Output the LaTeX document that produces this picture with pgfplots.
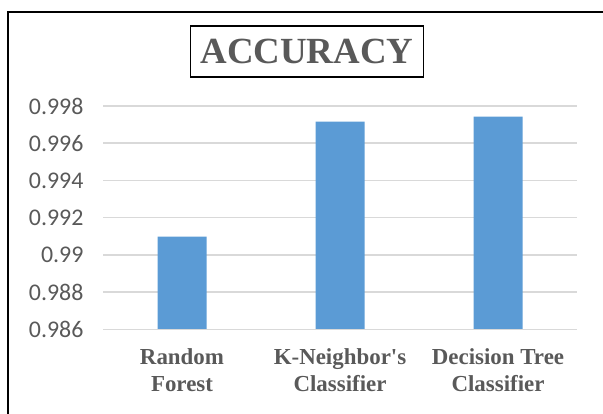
\documentclass[border=0pt]{standalone}
\usepackage{pgfplots}
\pgfplotsset{compat=1.18}
\usepackage{fontspec}
\setmainfont{Liberation Serif}
\newfontfamily\carlito{Carlito}
\definecolor{barblue}{HTML}{5B9BD5}
\definecolor{gridgray}{HTML}{D9D9D9}
\definecolor{txtgray}{HTML}{595959}
\begin{document}
\begin{tikzpicture}[x=1bp,y=1bp]
\useasboundingbox (0,0) rectangle (603,413);
\draw[line width=1.5bp] (8,-20) -- (8,401) -- (640,401);
\begin{axis}[
  at={(103bp,83.7bp)}, anchor=south west,
  scale only axis, width=474bp, height=223.3bp,
  xmin=-0.5, xmax=2.5, ymin=0.986, ymax=0.998,
  axis line style={draw=none},
  xtick={0,1,2},
  xticklabels={Random\\Forest, K-Neighbor\textquotesingle s\\Classifier, Decision Tree\\Classifier},
  x tick label style={align=center, font=\fontsize{23}{27}\selectfont\bfseries, text=txtgray, anchor=north, yshift=-16bp},
  ytick={0.986,0.988,0.99,0.992,0.994,0.996,0.998},
  yticklabels={0.986,0.988,0.99,0.992,0.994,0.996,0.998},
  y tick label style={font=\fontsize{24}{28}\selectfont\carlito, text=txtgray, anchor=east, xshift=-16bp},
  major tick length=0pt,
  ymajorgrids, grid style={gridgray, line width=1.5bp},
  /pgf/number format/assume math mode=true,
  clip=false,
]
\addplot[ybar, bar width=49bp, fill=barblue, draw=none] coordinates {(0,0.99098) (1,0.99716) (2,0.99743)};
\draw[gridgray, line width=1.5bp] (axis cs:-0.5,0.986) -- (axis cs:2.5,0.986);
\end{axis}
\node[draw, line width=1.8bp, inner xsep=10bp, inner ysep=13.5bp, text=txtgray, font=\fontsize{37}{40}\selectfont\bfseries] at (307,361.5) {ACCURACY};
\end{tikzpicture}
\end{document}
